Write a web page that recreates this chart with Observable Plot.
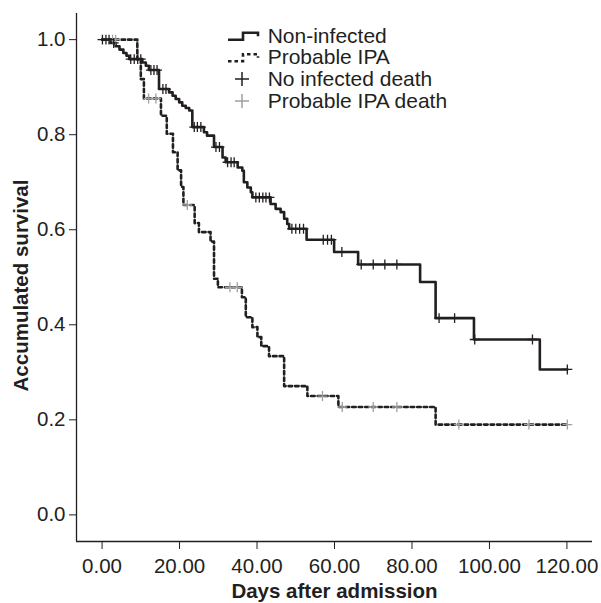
<!DOCTYPE html>
<html>
<head>
<meta charset="utf-8">
<script src="https://cdn.jsdelivr.net/npm/d3@7"></script>
<script src="https://cdn.jsdelivr.net/npm/@observablehq/plot@0.6"></script>
<style>
  html, body { margin: 0; padding: 0; background: #fff; }
  #wrap { position: relative; width: 601px; height: 603px; }
  #legend { position: absolute; left: 0; top: 0; pointer-events: none; }
</style>
</head>
<body>
<div id="wrap"></div>
<script>
// ---- data ----
const nonInfectedDays = [0, 2.3, 3.5, 4.5, 5.5, 6.3, 7.0, 10.4, 11.3, 12.1, 14.7, 17.3, 18.2, 19.0, 19.9, 20.7, 21.6, 22.5, 23.3, 26.3, 27.1, 28.9, 31.1, 31.9, 35.0, 36.2, 36.6, 37.5, 38.4, 38.8, 43.5, 44.8, 46.1, 47.0, 47.8, 48.3, 52.8, 59.9, 66.1, 82.1, 86.1, 96.0, 113.0, 120.1];
const nonInfectedSurv = [1.0, 0.993, 0.986, 0.979, 0.972, 0.966, 0.959, 0.952, 0.945, 0.936, 0.896, 0.889, 0.882, 0.875, 0.868, 0.861, 0.856, 0.851, 0.816, 0.805, 0.798, 0.774, 0.752, 0.742, 0.731, 0.724, 0.700, 0.689, 0.679, 0.668, 0.654, 0.644, 0.637, 0.623, 0.612, 0.602, 0.579, 0.553, 0.527, 0.490, 0.414, 0.369, 0.306, 0.306];
const nonInfectedCensored = [0.1, 1.0, 1.8, 3.0, 7.4, 8.3, 9.2, 10.0, 12.6, 13.4, 14.2, 15.7, 16.5, 23.8, 24.6, 25.5, 29.4, 30.3, 32.4, 33.3, 34.1, 39.7, 40.6, 41.5, 42.3, 43.2, 49.0, 50.0, 51.0, 52.0, 57.1, 58.2, 59.2, 61.9, 66.9, 70.0, 73.0, 76.1, 87.0, 91.0, 96.2, 111.1, 120.1];

const ipaDays = [0, 9.1, 10.0, 10.8, 15.2, 16.7, 18.3, 19.5, 20.4, 21.0, 23.9, 25.0, 28.0, 28.9, 29.9, 36.1, 37.1, 38.8, 40.1, 41.1, 43.1, 47.0, 53.0, 61.0, 86.1, 120.1];
const ipaSurv = [1.0, 0.958, 0.917, 0.876, 0.840, 0.802, 0.763, 0.725, 0.690, 0.652, 0.614, 0.595, 0.575, 0.497, 0.479, 0.458, 0.416, 0.395, 0.374, 0.355, 0.334, 0.271, 0.250, 0.227, 0.190, 0.190];
const ipaCensored = [2.7, 3.5, 12.0, 13.9, 22.0, 33.0, 34.9, 56.9, 62.0, 70.0, 76.1, 92.1, 110.2, 120.1];

const xTicks = [0, 20, 40, 60, 80, 100, 120];
const yTicks = [0, 0.2, 0.4, 0.6, 0.8, 1.0];
const xDomain = [-6.6, 126.6];
const yDomain = [-0.056, 1.055];

const seriesNames = ["Non-infected", "Probable IPA", "No infected death", "Probable IPA death"];

// ---- helpers ----
function toPoints(days, surv) { return days.map((d, i) => ({day: d, surv: surv[i]})); }
function survAt(days, surv, t) {
  let s = surv[0];
  for (let i = 0; i < days.length; i++) { if (days[i] <= t) s = surv[i]; }
  return s;
}
const niLine = toPoints(nonInfectedDays, nonInfectedSurv);
const ipaLine = toPoints(ipaDays, ipaSurv);
const niCens = nonInfectedCensored.map(t => ({day: t, surv: survAt(nonInfectedDays, nonInfectedSurv, t)}));
const ipaCens = ipaCensored.map(t => ({day: t, surv: survAt(ipaDays, ipaSurv, t)}));

const ink = "#231f20";
const grey = "#a0a0a0";
const font = "'Liberation Sans', Arial, Helvetica, sans-serif";

const chart = Plot.plot({
  width: 601,
  height: 603,
  marginLeft: 76,
  marginRight: 9,
  marginTop: 13,
  marginBottom: 62,
  style: {fontFamily: font, fontSize: "20.5px", color: ink, background: "#fff"},
  x: {domain: xDomain, ticks: xTicks, tickFormat: d3.format(".2f"), label: null, tickSize: 8, tickPadding: 9},
  y: {domain: yDomain, ticks: yTicks, tickFormat: d3.format(".1f"), label: null, tickSize: 7, tickPadding: 4},
  marks: [
    Plot.ruleX([xDomain[0]], {stroke: ink, strokeWidth: 1.3}),
    Plot.ruleY([yDomain[0]], {stroke: ink, strokeWidth: 1.3}),
    Plot.line(ipaLine, {x: "day", y: "surv", curve: "step-after", stroke: ink, strokeWidth: 2.6, strokeDasharray: "3.5,3"}),
    Plot.line(niLine, {x: "day", y: "surv", curve: "step-after", stroke: ink, strokeWidth: 2.6}),
    Plot.dot(ipaCens, {x: "day", y: "surv", symbol: "plus", r: 3.3, stroke: grey, strokeWidth: 1.3}),
    Plot.dot(niCens, {x: "day", y: "surv", symbol: "plus", r: 3.3, stroke: ink, strokeWidth: 1.3}),
    Plot.text(["Days after admission"], {frameAnchor: "bottom", dy: 50, lineAnchor: "middle", textAnchor: "middle", fontWeight: "bold", fontSize: 20.5, fill: ink}),
    Plot.text(["Accumulated survival"], {frameAnchor: "left", dx: -55, dy: 8, rotate: -90, lineAnchor: "middle", textAnchor: "middle", fontWeight: "bold", fontSize: 20.5, fill: ink})
  ]
});
document.getElementById("wrap").appendChild(chart);

// ---- legend overlay ----
const ns = "http://www.w3.org/2000/svg";
const lg = document.createElementNS(ns, "svg");
lg.setAttribute("id", "legend");
lg.setAttribute("width", 601);
lg.setAttribute("height", 130);
const rowBase = [42.7, 64.3, 86, 108];
function el(name, attrs) {
  const e = document.createElementNS(ns, name);
  for (const k in attrs) e.setAttribute(k, attrs[k]);
  lg.appendChild(e);
  return e;
}
// step glyphs
[0, 1].forEach(i => {
  const b = rowBase[i];
  el("path", {d: `M228,${b - 3}H243V${b - 10}H258V${b - 6.5}`, fill: "none", stroke: ink, "stroke-width": 2.6,
    "stroke-dasharray": i === 1 ? "3.5,3" : "none"});
});
// plus glyphs
[[2, ink], [3, grey]].forEach(([i, c]) => {
  const cy = rowBase[i] - 7;
  el("path", {d: `M235,${cy}H249M242,${cy - 7}V${cy + 7}`, fill: "none", stroke: c, "stroke-width": 1.5});
});
seriesNames.forEach((name, i) => {
  const t = el("text", {x: 267.7, y: rowBase[i], fill: ink, "font-family": font, "font-size": 21});
  t.textContent = name;
});
document.getElementById("wrap").appendChild(lg);
</script>
</body>
</html>
